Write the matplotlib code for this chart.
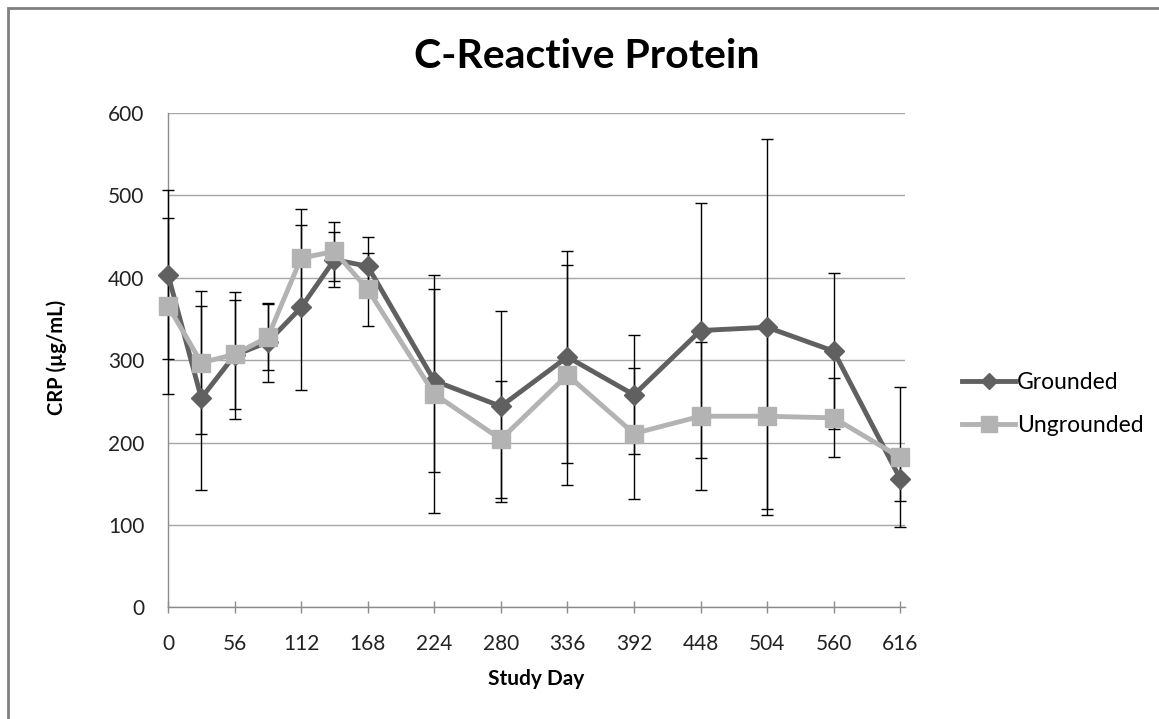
import numpy as np
import matplotlib.pyplot as plt
from matplotlib.patches import Rectangle

# study days and mean CRP (ug/mL) with SD for each group
days = [0, 28, 56, 84, 112, 140, 168, 224, 280, 336, 392, 448, 504, 560, 616]
grounded = [404, 254, 306, 322, 364, 422, 414, 275, 244, 304, 258, 336, 340, 311, 156]
grounded_sd = [102, 112, 77, 48, 100, 33, 36, 111, 116, 129, 72, 155, 228, 95, 27]
ungrounded = [366, 297, 307, 328, 424, 432, 386, 259, 204, 282, 211, 232, 232, 230, 182]
ungrounded_sd = [107, 87, 66, 40, 60, 36, 44, 145, 71, 133, 80, 90, 112, 48, 85]
xticks = [0, 56, 112, 168, 224, 280, 336, 392, 448, 504, 560, 616]
yticks = [0, 100, 200, 300, 400, 500, 600]

plt.rcParams['font.family'] = ['Lato', 'DejaVu Sans']

W, H = 1159, 719
fig = plt.figure(figsize=(W / 100, H / 100), dpi=100)
fig.patch.set_facecolor('white')

# outer chart border
fig.patches.append(Rectangle((7.5 / W, -0.05), 1.1, 1 - 8 / H + 0.05,
                             transform=fig.transFigure, fill=False,
                             edgecolor='#808080', linewidth=2.0))

ax = fig.add_axes([168 / W, (H - 607.4) / H, (905 - 168) / W, (607.4 - 113) / H])
ax.set_xlim(0, 620)
ax.set_ylim(0, 600)

ax.yaxis.grid(True, color='#a6a6a6', linewidth=1.0)
ax.set_axisbelow(True)
ax.set_yticks(yticks)

for s in ['top', 'right']:
    ax.spines[s].set_visible(False)
for s in ['left', 'bottom']:
    ax.spines[s].set_color('#8c8c8c')
    ax.spines[s].set_linewidth(1.0)

ax.set_xticks(xticks)
ax.tick_params(axis='x', direction='inout', length=8, width=1, color='#8c8c8c',
               pad=15, labelsize=15, labelcolor='#222222')
ax.tick_params(axis='y', length=0, pad=17, labelsize=15, labelcolor='#222222')

# error bars under the lines
ax.errorbar(days, grounded, yerr=grounded_sd, fmt='none', ecolor='black',
            elinewidth=1.0, capsize=4, capthick=1.0, zorder=3, clip_on=False)
ax.errorbar(days, ungrounded, yerr=ungrounded_sd, fmt='none', ecolor='black',
            elinewidth=1.0, capsize=4, capthick=1.0, zorder=3, clip_on=False)

ax.plot(days, grounded, color='#606060', linewidth=3.5, marker='D',
        markersize=10, label='Grounded', zorder=4, clip_on=False)
ax.plot(days, ungrounded, color='#b3b3b3', linewidth=3.5, marker='s',
        markersize=13, label='Ungrounded', zorder=5, clip_on=False)

fig.text(587 / W, 1 - 57 / H, 'C-Reactive Protein', ha='center', va='center',
         fontsize=29.5, fontweight='bold', color='black')
fig.text(536 / W, 1 - 679 / H, 'Study Day', ha='center', va='center',
         fontsize=15, fontweight='bold', color='black')
fig.text(57 / W, 1 - 357 / H, 'CRP (µg/mL)', ha='center', va='center',
         rotation=90, fontsize=14.5, fontweight='bold', color='black')

fig.legend(loc='center left', bbox_to_anchor=(953 / W, 1 - 404 / H),
           frameon=False, fontsize=16.5, handlelength=2.3, handletextpad=0.1,
           labelspacing=1.0, borderaxespad=0, markerscale=0.85)

fig.savefig('out.png', dpi=100)
